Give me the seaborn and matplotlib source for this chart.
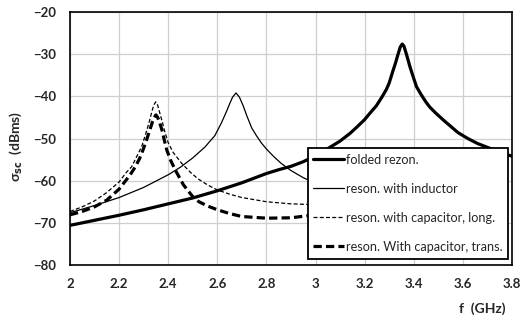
import numpy as np
import pandas as pd
import matplotlib
matplotlib.use('Agg')
import matplotlib.pyplot as plt
import seaborn as sns

# values (f in GHz, sigma in dBms)
f_folded = [2.0, 2.1, 2.2, 2.3, 2.4, 2.5, 2.6, 2.7, 2.8, 2.85, 2.9, 2.95, 3.0, 3.05, 3.1,
            3.14, 3.17, 3.2, 3.22, 3.248, 3.27, 3.289, 3.3, 3.316, 3.325, 3.335, 3.345,
            3.353, 3.36, 3.37, 3.384, 3.395, 3.411, 3.43, 3.45, 3.466, 3.49, 3.52, 3.55,
            3.58, 3.62, 3.66, 3.7, 3.75, 3.8]
s_folded = [-70.6, -69.4, -68.2, -66.9, -65.5, -64.1, -62.4, -60.5, -58.3, -57.4, -56.6,
            -55.5, -54.1, -52.4, -50.6, -48.8, -47.2, -45.5, -44.1, -42.2, -40.2, -38.3,
            -36.8, -33.8, -32.2, -30.2, -28.3, -27.6, -28.1, -30.0, -32.9, -34.9, -37.7,
            -39.6, -41.4, -42.6, -44.0, -45.6, -47.1, -48.6, -50.0, -51.2, -52.1, -53.2,
            -54.2]

f_induct = [2.0, 2.1, 2.2, 2.3, 2.4, 2.45, 2.5, 2.55, 2.59, 2.615, 2.635, 2.65, 2.662,
            2.676, 2.69, 2.705, 2.72, 2.74, 2.76, 2.78, 2.8, 2.83, 2.86, 2.9, 2.95, 3.0]
s_induct = [-67.6, -65.9, -64.0, -61.6, -58.6, -56.8, -54.6, -52.0, -49.3, -46.5, -43.9,
            -41.8, -40.2, -39.2, -40.2, -42.2, -44.6, -47.5, -49.4, -51.1, -52.5, -54.3,
            -55.9, -57.6, -59.3, -60.6]

f_cap_long = [2.0, 2.05, 2.1, 2.15, 2.2, 2.23, 2.251, 2.275, 2.292, 2.31, 2.322, 2.333,
              2.341, 2.349, 2.357, 2.365, 2.375, 2.387, 2.4, 2.42, 2.455, 2.49, 2.522, 2.56,
              2.6, 2.65, 2.7, 2.8, 2.9, 3.0]
s_cap_long = [-67.3, -66.2, -64.8, -62.8, -60.3, -58.0, -56.7, -53.9, -51.9, -48.6, -46.2,
              -43.7, -42.1, -41.3, -42.1, -43.8, -45.9, -48.6, -51.0, -53.3, -55.9, -58.0,
              -59.6, -61.0, -62.2, -63.2, -64.0, -65.0, -65.5, -65.7]

f_cap_trans = [2.0, 2.05, 2.1, 2.15, 2.2, 2.224, 2.245, 2.265, 2.283, 2.298, 2.312, 2.326,
               2.336, 2.343, 2.35, 2.357, 2.364, 2.374, 2.385, 2.394, 2.41, 2.43, 2.462,
               2.5, 2.525, 2.56, 2.6, 2.65, 2.7, 2.8, 2.9, 3.0]
s_cap_trans = [-68.1, -67.3, -66.2, -64.6, -62.0, -60.2, -58.6, -56.8, -54.8, -52.6, -50.3,
               -47.8, -46.0, -45.0, -44.4, -45.0, -46.0, -47.9, -50.6, -52.7, -55.2, -57.6,
               -61.0, -63.8, -65.0, -66.0, -66.9, -67.8, -68.5, -68.9, -68.8, -68.1]

labels = ['folded rezon.', 'reson. with inductor', 'reson. with capacitor, long.',
          'reson. With capacitor, trans.']

x_ticks = [2.0, 2.2, 2.4, 2.6, 2.8, 3.0, 3.2, 3.4, 3.6, 3.8]
x_tick_labels = ['2', '2.2', '2.4', '2.6', '2.8', '3', '3.2', '3.4', '3.6', '3.8']
y_ticks = [-80, -70, -60, -50, -40, -30, -20]

sns.set_style('white')
plt.rcParams['font.family'] = ['Lato', 'DejaVu Sans']

fig = plt.figure(figsize=(5.28, 3.22), dpi=100)
ax = fig.add_axes([70 / 528, 1 - 265 / 322, 442 / 528, 253 / 322])

curves = [
    (f_folded, s_folded, dict(lw=2.3, linestyle='-')),
    (f_induct, s_induct, dict(lw=0.9, linestyle='-')),
    (f_cap_long, s_cap_long, dict(lw=0.9, linestyle=(0, (3.2, 1.8)))),
    (f_cap_trans, s_cap_trans, dict(lw=2.3, linestyle=(0, (2.6, 1.3)))),
]
for (fx, sy, style), lab in zip(curves, labels):
    sns.lineplot(x=fx, y=sy, ax=ax, color='black', label=lab, **style)

ax.set_xlim(2.0, 3.8)
ax.set_ylim(-80, -20)
ax.set_xticks(x_ticks)
ax.set_xticklabels(x_tick_labels)
ax.set_yticks(y_ticks)
ax.grid(True, color='#cfcfcf', lw=0.9)
ax.set_axisbelow(True)
for sp in ax.spines.values():
    sp.set_color('black')
    sp.set_linewidth(1.2)
ax.tick_params(axis='both', length=3, color='#bdbdbd', width=0.9, labelsize=9.5, pad=6)
ax.tick_params(axis='y', pad=7)
for t in ax.get_xticklabels() + ax.get_yticklabels():
    t.set_fontweight('bold')

ax.set_xlabel('')
ax.set_ylabel(r'σ$_{\mathbf{sc}}$  (dBms)', fontsize=10, fontweight='bold')
ax.yaxis.set_label_coords(-0.105, 0.47)
fig.text(0.913, 0.04, 'f  (GHz)', fontsize=10, fontweight='bold', ha='center', va='center')

leg = ax.legend(loc='upper right', bbox_to_anchor=(508 / 528, 1 - 148 / 322),
                bbox_transform=fig.transFigure, borderaxespad=0, fontsize=9.1,
                frameon=True, fancybox=False, framealpha=1, edgecolor='black',
                handlelength=2.4, handletextpad=0.15, labelspacing=1.35, borderpad=0.45)
leg.get_frame().set_linewidth(1.3)
leg.set_zorder(10)

fig.savefig('out.png', dpi=100)
